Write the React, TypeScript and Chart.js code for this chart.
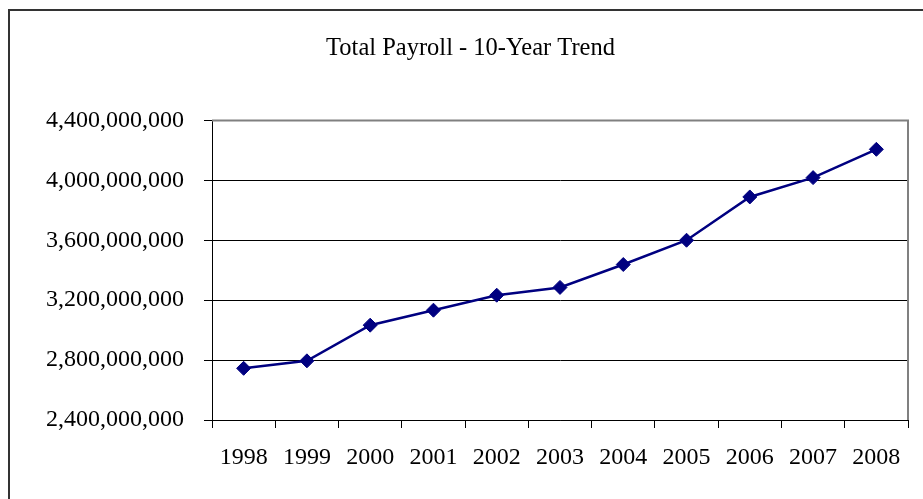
import React, { useEffect, useRef } from "react";
import { Chart, registerables } from "chart.js";

Chart.register(...registerables);

const years = ["1998", "1999", "2000", "2001", "2002", "2003", "2004", "2005", "2006", "2007", "2008"];
const payroll = [
  2745000000, 2795000000, 3033000000, 3133000000, 3233000000, 3285000000,
  3438000000, 3600000000, 3889000000, 4018000000, 4207000000,
];
const yMin = 2400000000;
const yMax = 4400000000;
const yStep = 400000000;
const titleText = "Total Payroll - 10-Year Trend";

const FONT = "'Liberation Serif', 'Times New Roman', serif";

const plotFrame = {
  id: "plotFrame",
  beforeDatasetsDraw(chart: any) {
    const { ctx, chartArea } = chart;
    ctx.save();
    ctx.strokeStyle = "#808080";
    ctx.lineWidth = 2;
    ctx.beginPath();
    ctx.moveTo(chartArea.left, chartArea.top);
    ctx.lineTo(chartArea.right, chartArea.top);
    ctx.lineTo(chartArea.right, chartArea.bottom);
    ctx.stroke();
    ctx.restore();
  },
};

export default function App() {
  const ref = useRef<HTMLCanvasElement | null>(null);

  useEffect(() => {
    if (!ref.current) return;
    const chart = new Chart(ref.current, {
      type: "line",
      data: {
        labels: years,
        datasets: [
          {
            data: payroll,
            borderColor: "#000080",
            backgroundColor: "#000080",
            borderWidth: 2.5,
            pointStyle: "rectRot",
            pointRadius: 7,
            pointBorderWidth: 1,
            pointBackgroundColor: "#000080",
            pointBorderColor: "#000080",
            tension: 0,
          },
        ],
      },
      options: {
        animation: false,
        responsive: false,
        maintainAspectRatio: false,
        layout: { padding: { left: 33, right: 15, top: 0, bottom: 0 } },
        plugins: {
          legend: { display: false },
          tooltip: { enabled: false },
          title: {
            display: true,
            text: titleText,
            color: "#000",
            font: { family: FONT, size: 24.5, weight: "normal", lineHeight: 1.2 },
            padding: { top: 34, bottom: 57 },
          },
        },
        scales: {
          x: {
            offset: true,
            grid: {
              offset: true,
              drawOnChartArea: false,
              drawTicks: true,
              tickLength: 8,
              color: "#000",
              tickColor: "#000",
            },
            border: { color: "#000", width: 1 },
            ticks: {
              color: "#000",
              font: { family: FONT, size: 24 },
              padding: 15,
              maxRotation: 0,
              autoSkip: false,
            },
            afterFit(scale: any) {
              scale.height = 79;
            },
          },
          y: {
            min: yMin,
            max: yMax,
            grid: {
              color: (c: any) => (c.tick && c.tick.value === yMax ? "rgba(0,0,0,0)" : "#000"),
              tickColor: "#000",
              tickLength: 8,
              lineWidth: 1,
            },
            border: { color: "#000", width: 1 },
            ticks: {
              stepSize: yStep,
              color: "#000",
              font: { family: FONT, size: 24 },
              padding: 20,
              callback: (v: any) => Number(v).toLocaleString("en-US"),
            },
            afterFit(scale: any) {
              scale.width = 179;
            },
          },
        },
      },
      plugins: [plotFrame],
    });
    return () => chart.destroy();
  }, []);

  return (
    <div
      style={{
        position: "fixed",
        left: 0,
        top: 0,
        width: 923,
        height: 499,
        background: "#fff",
        overflow: "hidden",
      }}
    >
      <div
        style={{
          position: "absolute",
          left: 8,
          top: 9,
          width: 1000,
          height: 1000,
          borderLeft: "2px solid #333",
          borderTop: "2px solid #333",
          boxSizing: "border-box",
        }}
      />
      <canvas
        ref={ref}
        width={923}
        height={499}
        style={{ position: "absolute", left: 0, top: 0, width: 923, height: 499 }}
      />
    </div>
  );
}
